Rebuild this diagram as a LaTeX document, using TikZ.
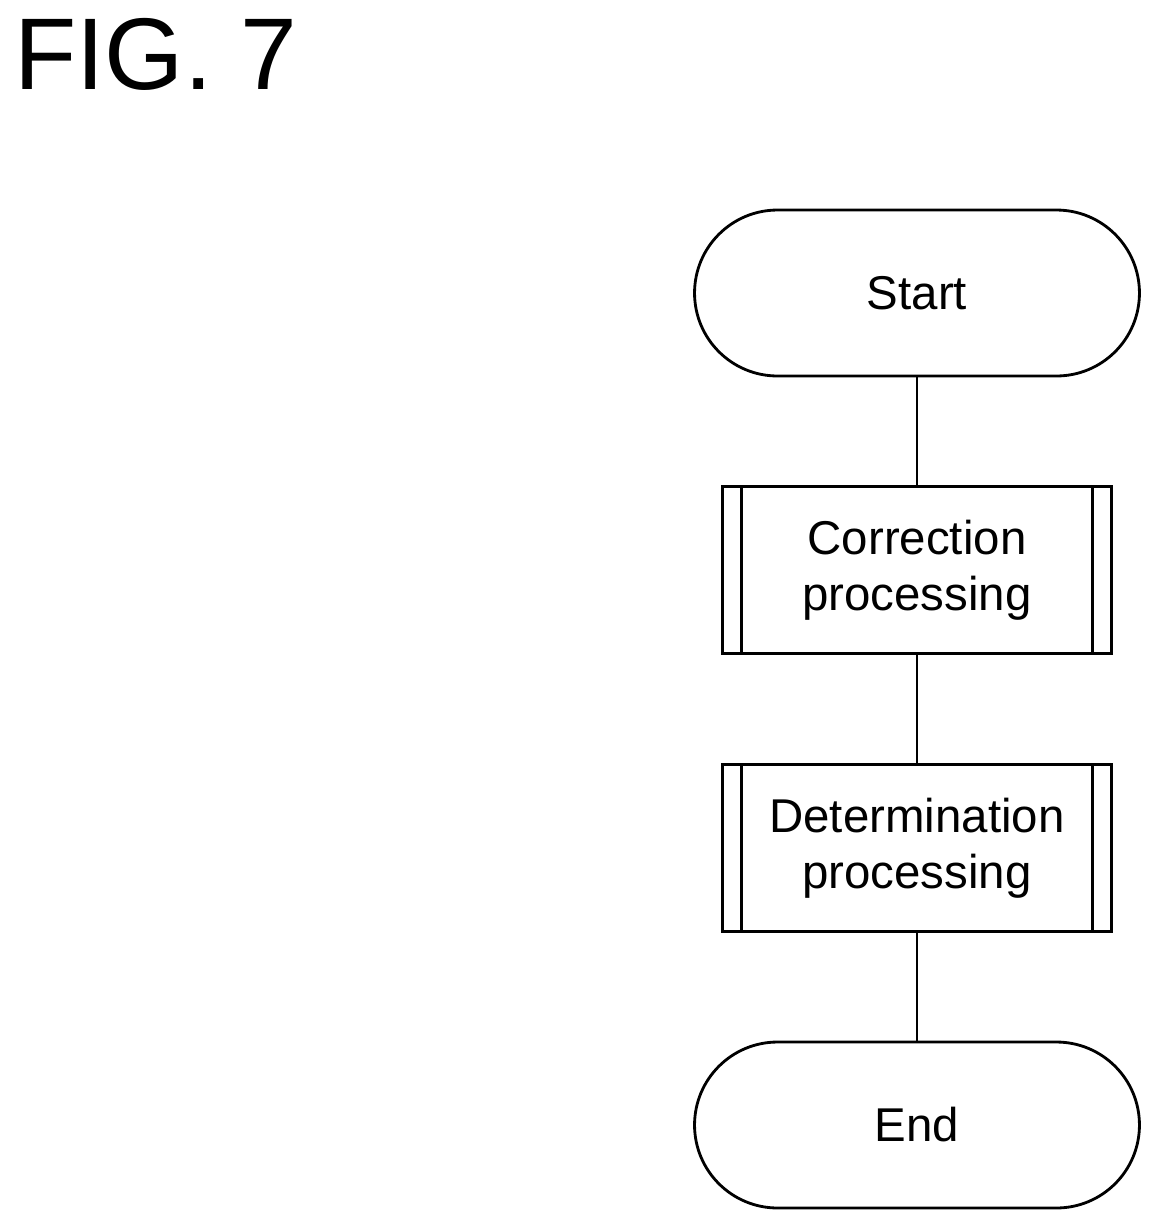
\documentclass[tikz,border=0pt]{standalone}
\usepackage{fontspec}
\setmainfont{Liberation Sans}
\begin{document}
\begin{tikzpicture}[x=0.02cm,y=-0.02cm,
    term/.style={draw, line width=1.6pt, rounded corners=1.66cm, minimum width=8.9cm, minimum height=3.32cm, font=\fontsize{27}{32}\selectfont},
    sub/.style={draw, line width=1.6pt, minimum width=7.78cm, minimum height=3.34cm, align=center, font=\fontsize{27}{32}\selectfont}]

    \useasboundingbox (0,0) rectangle (1163,1232);

    \node[anchor=north west, font=\fontsize{58}{60}\selectfont] (fig) at (8,12) {FIG. 7};

    \node[term] (start) at (917,293) {Start};
    \node[sub] (corr) at (917,570) {Correction\\processing};
    \node[sub] (det) at (917,848) {Determination\\processing};
    \node[term] (end) at (917,1125) {End};

    \draw[line width=1.6pt] ([xshift=0.4cm]corr.north west) -- ([xshift=0.4cm]corr.south west);
    \draw[line width=1.6pt] ([xshift=-0.4cm]corr.north east) -- ([xshift=-0.4cm]corr.south east);
    \draw[line width=1.6pt] ([xshift=0.4cm]det.north west) -- ([xshift=0.4cm]det.south west);
    \draw[line width=1.6pt] ([xshift=-0.4cm]det.north east) -- ([xshift=-0.4cm]det.south east);

    \draw[line width=1.6pt] (start) -- (corr);
    \draw[line width=1.6pt] (corr) -- (det);
    \draw[line width=1.6pt] (det) -- (end);

\end{tikzpicture}
\end{document}
